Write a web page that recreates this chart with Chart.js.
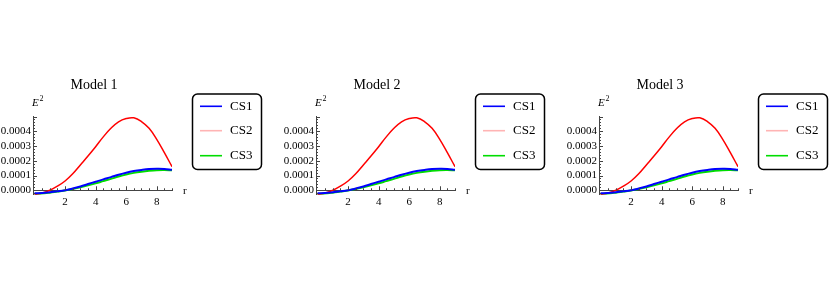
<!DOCTYPE html>
<html>
<head>
<meta charset="utf-8">
<script src="https://cdn.jsdelivr.net/npm/chart.js@4.4.0/dist/chart.umd.min.js"></script>
<style>
  body { margin: 0; background: #fff; }
  .wrap { position: relative; width: 830px; height: 287px; overflow: hidden; }
  canvas { position: absolute; top: 0; }
</style>
</head>
<body>
<div class="wrap">
  <canvas id="c0" width="264" height="287" style="left:0px"></canvas>
  <canvas id="c1" width="264" height="287" style="left:283px"></canvas>
  <canvas id="c2" width="264" height="287" style="left:566px"></canvas>
</div>
<script>
// data
const models = ['Model 1', 'Model 2', 'Model 3']
const seriesNames = ['CS1', 'CS2', 'CS3']
const rValues = [0, 0.5, 1, 1.5, 2, 2.5, 3, 3.5, 4, 4.5, 5, 5.5, 6, 6.5, 7, 7.5, 8, 8.5, 9]
const cs1 = [-0.000020, -0.000018, -0.000013, -0.000007, 0.000000, 0.000012, 0.000026, 0.000042, 0.000058,
    0.000074, 0.000089, 0.000105, 0.000119, 0.000130, 0.000138, 0.000144, 0.000146, 0.000145, 0.000139]
const cs2 = [-0.000028, -0.000018, 0.000000, 0.000028, 0.000063, 0.000112, 0.000172, 0.000232, 0.000295,
    0.000362, 0.000420, 0.000464, 0.000486, 0.000491, 0.000466, 0.000420, 0.000345, 0.000255, 0.000160]
const cs3 = [-0.000025, -0.000022, -0.000016, -0.000009, -0.000002, 0.000008, 0.000020, 0.000033, 0.000047,
    0.000062, 0.000077, 0.000093, 0.000107, 0.000118, 0.000126, 0.000132, 0.000136, 0.000137, 0.000135]
const xTicks = [2, 4, 6, 8]
const yTicks = [0, 0.0001, 0.0002, 0.0003, 0.0004]

const lineColors = ['#0000ff', '#ff0000', '#00dd00']
const legendColors = ['#0000ff', '#ffb4b4', '#00dd00']
const serif = '"Liberation Serif", "DejaVu Serif", serif'
const axisColor = '#444'

function pts(vals) {
    return rValues.map(function (r, i) { return {x: r, y: vals[i]} })
}

const decor = {
    id: 'decor',
    afterDraw: function (chart) {
        const ctx = chart.ctx
        const xs = chart.scales.x
        const ys = chart.scales.y
        const left = chart.chartArea.left
        const y0 = ys.getPixelForValue(0)
        ctx.save()
        ctx.strokeStyle = axisColor
        ctx.lineWidth = 1
        // inward ticks, Mathematica style
        for (let k = -1; k <= 25; k++) {
            const v = k * 0.00002
            const py = Math.round(ys.getPixelForValue(v)) + 0.5
            if (py < chart.chartArea.top - 0.5) break
            const len = (k % 5 === 0) ? 4 : 2
            ctx.beginPath(); ctx.moveTo(left, py); ctx.lineTo(left + len, py); ctx.stroke()
        }
        for (let k = 1; k <= 18; k++) {
            const v = k * 0.5
            const px = Math.round(xs.getPixelForValue(v)) + 0.5
            const len = (k % 4 === 0) ? 4 : 2
            ctx.beginPath(); ctx.moveTo(px, y0); ctx.lineTo(px, y0 - len); ctx.stroke()
        }
        // title and axis labels
        ctx.fillStyle = '#000'
        ctx.textAlign = 'center'
        ctx.textBaseline = 'middle'
        ctx.font = '14px ' + serif
        ctx.fillText(chart.options.plugins.decor.title, 94, 85)
        ctx.textAlign = 'left'
        ctx.textBaseline = 'alphabetic'
        ctx.font = 'italic 11px ' + serif
        ctx.fillText('E', 32, 106)
        ctx.font = '8px ' + serif
        ctx.fillText('2', 39.5, 100.5)
        ctx.font = '11px ' + serif
        ctx.fillText('r', 183, 194)
        // legend box
        ctx.strokeStyle = '#000'
        ctx.lineWidth = 1.5
        ctx.beginPath()
        ctx.roundRect(192.5, 94, 69, 75.5, 5)
        ctx.stroke()
        const rows = [106.3, 130.7, 155.7]
        ctx.font = '13px ' + serif
        ctx.textBaseline = 'middle'
        chart.data.datasets.forEach(function (ds, i) {
            ctx.strokeStyle = legendColors[i]
            ctx.lineWidth = 1.6
            ctx.beginPath(); ctx.moveTo(200, rows[i]); ctx.lineTo(222, rows[i]); ctx.stroke()
            ctx.fillStyle = '#000'
            ctx.fillText(ds.label, 230, rows[i])
        })
        ctx.restore()
    }
}

models.forEach(function (title, m) {
    const ctx = document.getElementById('c' + m).getContext('2d')
    new Chart(ctx, {
        type: 'line',
        data: {
            datasets: [
                {label: seriesNames[0], data: pts(cs1), borderColor: lineColors[0], borderWidth: 2},
                {label: seriesNames[1], data: pts(cs2), borderColor: lineColors[1], borderWidth: 1.5},
                {label: seriesNames[2], data: pts(cs3), borderColor: lineColors[2], borderWidth: 2}
            ]
        },
        options: {
            responsive: false,
            animation: false,
            devicePixelRatio: 1,
            elements: {point: {radius: 0}, line: {tension: 0.4, fill: false}},
            layout: {padding: {left: 0, top: 116.5, right: 92, bottom: 92.3}},
            plugins: {
                legend: {display: false},
                tooltip: {enabled: false},
                decor: {title: title}
            },
            scales: {
                x: {
                    type: 'linear',
                    position: {y: 0},
                    min: -0.1,
                    max: 9,
                    afterBuildTicks: function (scale) { scale.ticks = xTicks.map(function (v) { return {value: v} }) },
                    grid: {display: false, drawTicks: false},
                    border: {display: true, color: axisColor, width: 1},
                    ticks: {padding: 5, color: '#000', font: {family: serif, size: 11}, maxRotation: 0,
                        callback: function (v) { return String(v) }}
                },
                y: {
                    type: 'linear',
                    min: -0.00003,
                    max: 0.0005,
                    afterBuildTicks: function (scale) { scale.ticks = yTicks.map(function (v) { return {value: v} }) },
                    afterFit: function (scale) { scale.width = 33 },
                    grid: {display: false, drawTicks: false},
                    border: {display: true, color: axisColor, width: 1},
                    ticks: {padding: 2, color: '#000', font: {family: serif, size: 11},
                        callback: function (v) { return Number(v).toFixed(4) }}
                }
            }
        },
        plugins: [decor]
    })
})
</script>
</body>
</html>
